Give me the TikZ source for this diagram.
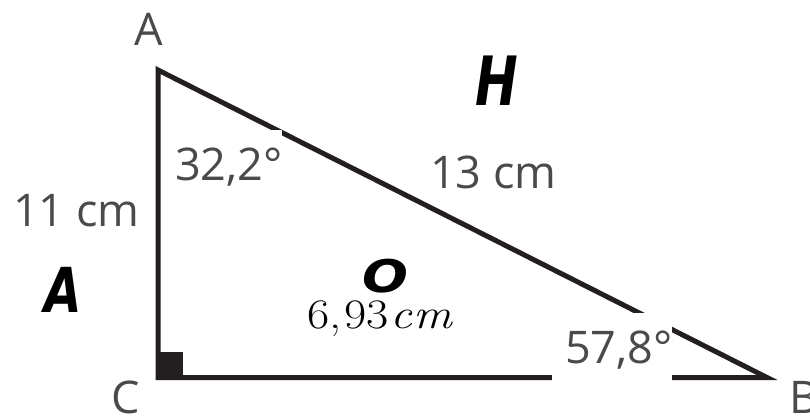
\documentclass[tikz,border=0pt]{standalone}
\usepackage{fontspec}
\setmainfont{Open Sans}
\newfontfamily\handfont{DejaVu Sans}
\newfontfamily\lmrfont{Latin Modern Roman}
\definecolor{linec}{HTML}{231F20}
\definecolor{labc}{HTML}{4A4A4A}
\tikzset{
  side/.style={line width=5pt, draw=linec, line join=miter},
  lab/.style={inner sep=0pt, outer sep=0pt, text=labc, font=\fontsize{45}{50}\selectfont},
  hand/.style={inner sep=0pt, outer sep=0pt, text=black, font=\handfont\bfseries\itshape},
  mask/.style={fill=white, draw=none}
}
\begin{document}
\begin{tikzpicture}[x=1pt, y=-1pt]
\useasboundingbox (0,0) rectangle (810,418);
\coordinate (A) at (158,70);
\coordinate (C) at (158,377.5);
\coordinate (B) at (767,377.5);
\draw[side] (A) -- (C) -- (B) -- cycle;
\fill[linec] (156,380) rectangle (183,352);
% white label backgrounds cutting the sides
\fill[mask] (166,129.5) rectangle (281.5,190);
\fill[mask] (552,313) rectangle (671.5,386);
% vertex names
\node[lab, anchor=base] (lA) at (149,45) {A};
\node[lab, anchor=base] (lC) at (126,413) {C};
\node[lab, anchor=base west] (lB) at (789,413) {B};
% measures
\node[lab, anchor=base west] (s11) at (13,226) {11 cm};
\node[lab, anchor=base west] (s13) at (430,188) {13 cm};
\node[lab, anchor=base west] (a32) at (175,180) {32,2°};
\node[lab, anchor=base west] (a57) at (565,363) {57,8°};
% handwritten letters
\node[hand, anchor=base] (hH) at (497,105) {\scalebox{0.75}[1]{\fontsize{68}{70}\selectfont H}};
\node[hand, anchor=base] (hA) at (63,312) {\scalebox{0.78}[1]{\fontsize{62}{64}\selectfont A}};
\node[hand, anchor=base] (hO) at (385,292) {\scalebox{1.2}[1]{\fontsize{45}{46}\selectfont O}};
\node[inner sep=0pt, outer sep=0pt, anchor=base west] (len) at (307,328) {\scalebox{1.15}[1]{\lmrfont\fontsize{42}{44}\selectfont 6,\kern3pt 93\itshape\kern1pt c\kern1pt m}};
\end{tikzpicture}
\end{document}
